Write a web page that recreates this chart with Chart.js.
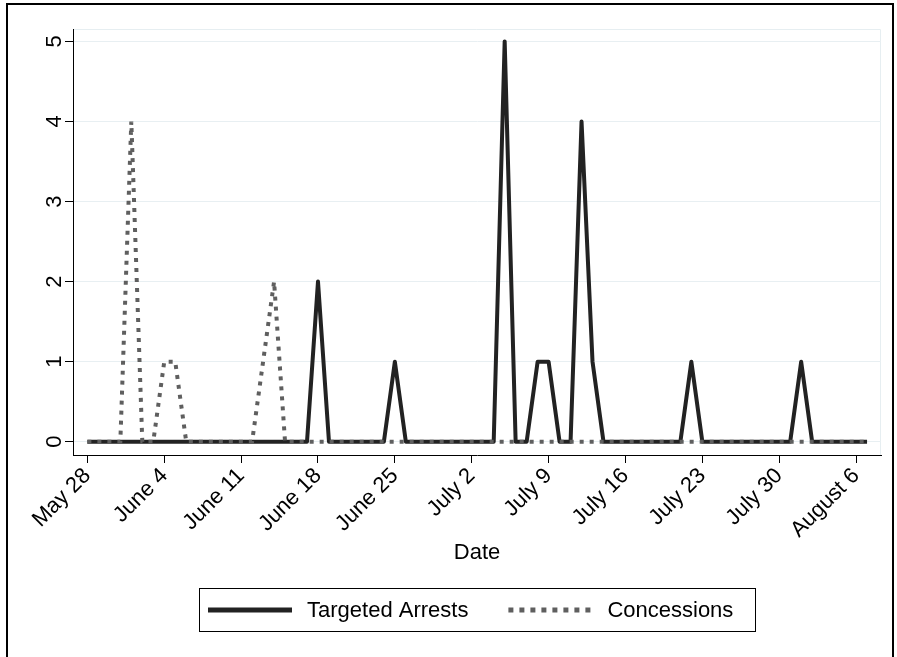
<!DOCTYPE html>
<html>
<head>
<meta charset="utf-8">
<script src="https://cdn.jsdelivr.net/npm/chart.js@4.4.0/dist/chart.umd.min.js"></script>
<style>
  html, body { margin: 0; padding: 0; background: #fff; }
</style>
</head>
<body>
<canvas id="canvas" width="897" height="657"></canvas>
<script>
// daily counts, May 28 .. August 7 (one value per day)
const arrests = [
    0, 0, 0, 0, 0, 0, 0,
    0, 0, 0, 0, 0, 0, 0,
    0, 0, 0, 0, 0, 0, 0,
    2, 0, 0, 0, 0, 0, 0,
    1, 0, 0, 0, 0, 0, 0,
    0, 0, 0, 5, 0, 0, 1,
    1, 0, 0, 4, 1, 0, 0,
    0, 0, 0, 0, 0, 0, 1,
    0, 0, 0, 0, 0, 0, 0,
    0, 0, 1, 0, 0, 0, 0,
    0, 0
]
const concessions = [
    0, 0, 0, 0, 4, 0, 0,
    1, 1, 0, 0, 0, 0, 0,
    0, 0, 1, 2, 0, 0, 0,
    0, 0, 0, 0, 0, 0, 0,
    0, 0, 0, 0, 0, 0, 0,
    0, 0, 0, 0, 0, 0, 0,
    0, 0, 0, 0, 0, 0, 0,
    0, 0, 0, 0, 0, 0, 0,
    0, 0, 0, 0, 0, 0, 0,
    0, 0, 0, 0, 0, 0, 0,
    0, 0
]
const tickLabels = ['May 28', 'June 4', 'June 11', 'June 18', 'June 25', 'July 2',
    'July 9', 'July 16', 'July 23', 'July 30', 'August 6']
const tickDays = [0, 7, 14, 21, 28, 35, 42, 49, 56, 63, 70]
const yTicks = [0, 1, 2, 3, 4, 5]

const FONT = "'Liberation Sans', Arial, sans-serif"
const toPoints = (arr) => arr.map((v, i) => ({x: i, y: v}))

// light frame round the plot, black frame round the figure, boxed legend
const decorations = {
    id: 'decorations',
    beforeDraw(chart) {
        const {ctx, chartArea: a} = chart
        ctx.save()
        ctx.fillStyle = '#fff'
        ctx.fillRect(0, 0, chart.width, chart.height)
        ctx.strokeStyle = '#e6eef1'
        ctx.lineWidth = 1
        ctx.beginPath()
        ctx.moveTo(a.left, a.top + 0.5)
        ctx.lineTo(a.right - 0.5, a.top + 0.5)
        ctx.lineTo(a.right - 0.5, a.bottom)
        ctx.stroke()
        ctx.restore()
    },
    afterDraw(chart) {
        const {ctx} = chart
        ctx.save()
        ctx.strokeStyle = '#000'
        ctx.lineWidth = 2
        ctx.strokeRect(7, 4, 886, 700)

        const box = {left: 199.5, top: 588.5, width: 556, height: 43}
        ctx.lineWidth = 1
        ctx.strokeRect(box.left, box.top, box.width, box.height)
        const cy = box.top + box.height / 2
        ctx.font = '22px ' + FONT
        ctx.textBaseline = 'middle'
        ctx.fillStyle = '#000'
        let x = 208
        chart.data.datasets.forEach(ds => {
            ctx.strokeStyle = ds.borderColor
            ctx.lineWidth = 5
            ctx.setLineDash(ds.borderDash ? [5, 6] : [])
            ctx.beginPath()
            ctx.moveTo(x, cy)
            ctx.lineTo(x + 84, cy)
            ctx.stroke()
            ctx.setLineDash([])
            ctx.fillText(ds.label, x + 99, cy + 1)
            x += 99 + ctx.measureText(ds.label).width + 40
        })
        ctx.restore()
    }
}

const canvas = document.getElementById('canvas')
new Chart(canvas, {
    type: 'line',
    data: {
        datasets: [
            {
                label: 'Targeted Arrests',
                data: toPoints(arrests),
                borderColor: '#222222',
                borderWidth: 4,
                borderJoinStyle: 'round',
                pointRadius: 0,
                order: 1
            },
            {
                label: 'Concessions',
                data: toPoints(concessions),
                borderColor: '#5f5f5f',
                borderWidth: 4,
                borderDash: [4, 6],
                pointRadius: 0,
                order: 0
            }
        ]
    },
    options: {
        responsive: false,
        animation: false,
        devicePixelRatio: 1,
        layout: {padding: {left: 0, top: 29, right: 16, bottom: 91}},
        plugins: {
            legend: {display: false},
            tooltip: {enabled: false}
        },
        scales: {
            x: {
                type: 'linear',
                min: -1.31,
                max: 72.27,
                afterBuildTicks: (scale) => {
                    scale.ticks = tickDays.map(v => ({value: v}))
                },
                afterFit: (scale) => {
                    scale.height = 111
                },
                ticks: {
                    autoSkip: false,
                    minRotation: 45,
                    maxRotation: 45,
                    padding: 0,
                    color: '#000',
                    font: {family: FONT, size: 22},
                    callback: (value, index) => tickLabels[index]
                },
                grid: {drawOnChartArea: false, tickLength: 8, tickColor: '#000'},
                border: {color: '#000', width: 1},
                title: {
                    display: true,
                    text: 'Date',
                    color: '#000',
                    padding: 0,
                    font: {family: FONT, size: 22}
                }
            },
            y: {
                min: -0.166,
                max: 5.155,
                afterBuildTicks: (scale) => {
                    scale.ticks = yTicks.map(v => ({value: v}))
                },
                afterFit: (scale) => {
                    scale.width = 73
                },
                ticks: {
                    minRotation: 90,
                    maxRotation: 90,
                    crossAlign: 'center',
                    padding: 4,
                    color: '#000',
                    font: {family: FONT, size: 22}
                },
                grid: {color: '#e8eff2', lineWidth: 1, tickLength: 8, tickColor: '#000'},
                border: {color: '#000', width: 1}
            }
        }
    },
    plugins: [decorations]
})
</script>
</body>
</html>
